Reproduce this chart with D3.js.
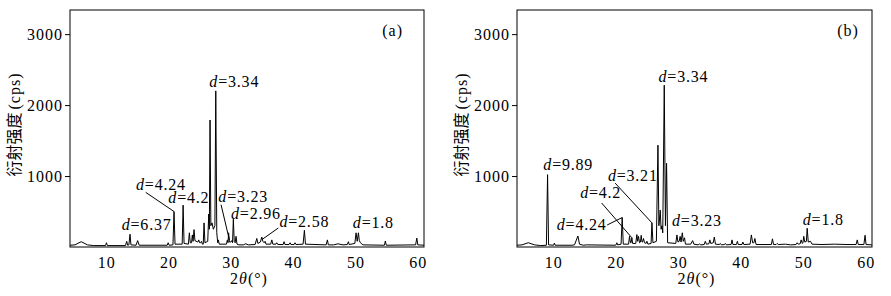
<!DOCTYPE html>
<html>
<head>
<meta charset="utf-8">
<script src="https://cdn.jsdelivr.net/npm/d3@7"></script>
<style>
  body { margin: 0; background: #fff; }
  svg text { fill: #000; }
</style>
</head>
<body>
<div id="chart-area"></div>
<script>
// XRD pattern (a), [2theta, counts] vertices of the trace
var patternA = [
    [4.2, 25], [5.0, 30], [6.0, 75], [7.0, 30], [8.0, 20], [9.9, 20], [10.05, 60], [10.2, 20],
    [13.1, 20], [13.3, 80], [13.45, 25], [13.65, 30], [13.83, 180], [13.98, 30], [14.8, 25],
    [15.05, 90], [15.3, 25], [19.8, 25], [19.95, 60], [20.1, 25], [20.72, 30], [20.89, 500],
    [21.05, 40], [22.2, 40], [22.35, 590], [22.5, 50], [23.2, 40], [23.35, 200], [23.5, 60],
    [23.7, 60], [23.83, 170], [23.95, 80], [24.1, 245], [24.25, 90], [24.7, 70], [24.86, 100],
    [25.0, 60], [25.15, 60], [25.3, 80], [25.45, 40], [25.58, 40], [25.71, 340], [25.85, 60],
    [26.3, 80], [26.46, 465], [26.56, 250], [26.67, 1790], [26.8, 300], [26.99, 340],
    [27.2, 250], [27.45, 300], [27.59, 2200], [27.75, 200], [27.9, 60], [28.0, 100], [28.15, 40],
    [29.3, 40], [29.45, 100], [29.55, 60], [29.65, 200], [29.78, 70], [30.0, 70], [30.15, 90],
    [30.28, 60], [30.41, 390], [30.55, 80], [30.7, 60], [30.84, 150], [31.0, 40], [31.3, 30],
    [32.0, 30], [32.4, 45], [32.8, 30], [33.9, 35], [34.17, 120], [34.35, 50], [34.75, 70],
    [34.97, 140], [35.15, 80], [35.35, 60], [35.5, 80], [35.65, 40], [36.4, 40], [36.58, 100],
    [36.75, 40], [37.25, 40], [37.38, 60], [37.55, 35], [38.4, 35], [38.55, 75], [38.7, 35],
    [39.35, 35], [39.51, 60], [39.65, 35], [40.15, 35], [40.3, 60], [40.45, 35], [41.6, 40],
    [41.81, 235], [41.98, 40], [45.3, 30], [45.5, 100], [45.65, 30], [46.5, 30], [47.2, 45],
    [48.0, 30], [48.7, 35], [48.87, 75], [49.0, 35], [49.9, 50], [50.1, 200], [50.28, 80],
    [50.48, 200], [50.62, 90], [50.8, 60], [51.2, 30], [54.65, 25], [54.8, 85], [54.95, 25],
    [59.65, 30], [59.85, 125], [60.0, 30], [61.0, 25]
];

// XRD pattern (b)
var patternB = [
    [4.2, 25], [5.0, 30], [6.0, 60], [7.0, 30], [8.0, 20], [8.9, 25], [9.09, 1020], [9.25, 30],
    [10.05, 25], [10.18, 55], [10.3, 25], [13.0, 25], [13.4, 30], [13.94, 155], [14.2, 40],
    [14.8, 25], [15.3, 30], [19.9, 25], [20.05, 30], [20.18, 60], [20.3, 30], [20.85, 40],
    [21.03, 415], [21.2, 40], [22.05, 40], [22.2, 150], [22.35, 60], [22.45, 60], [22.58, 130],
    [22.7, 50], [23.2, 50], [23.38, 175], [23.5, 80], [23.64, 150], [23.8, 60], [23.95, 70],
    [24.07, 165], [24.2, 70], [24.3, 70], [24.44, 120], [24.6, 60], [24.85, 50], [24.99, 80],
    [25.15, 40], [25.65, 50], [25.79, 340], [25.95, 60], [26.5, 80], [26.75, 1435], [26.9, 300],
    [27.12, 520], [27.25, 250], [27.39, 300], [27.52, 200], [27.76, 2280], [27.95, 300],
    [28.13, 1180], [28.3, 60], [29.6, 50], [29.79, 170], [29.95, 70], [30.15, 80], [30.3, 150],
    [30.45, 70], [30.65, 200], [30.8, 80], [31.0, 130], [31.15, 40], [32.0, 40], [32.3, 90],
    [32.5, 40], [33.2, 30], [33.37, 45], [33.6, 30], [34.15, 35], [34.33, 80], [34.5, 40],
    [34.9, 45], [35.05, 100], [35.2, 50], [35.6, 60], [35.77, 140], [35.95, 40], [36.6, 35],
    [36.73, 50], [36.9, 30], [37.4, 35], [37.53, 50], [37.7, 30], [38.45, 35], [38.6, 100],
    [38.75, 35], [39.3, 35], [39.46, 80], [39.6, 35], [40.2, 35], [40.34, 70], [40.5, 35],
    [41.5, 40], [41.7, 170], [41.9, 60], [42.1, 60], [42.26, 120], [42.45, 35], [44.9, 35],
    [45.07, 115], [45.25, 35], [45.65, 35], [45.82, 50], [46.0, 35], [47.15, 40], [48.0, 30],
    [48.85, 35], [49.02, 60], [49.2, 40], [49.5, 45], [49.66, 100], [49.85, 50], [49.95, 60],
    [50.08, 150], [50.25, 70], [50.5, 80], [50.63, 265], [50.8, 70], [51.16, 80], [51.4, 40],
    [53.0, 35], [55.0, 40], [57.0, 35], [58.45, 35], [58.64, 100], [58.8, 35], [59.7, 35],
    [59.89, 165], [60.05, 35], [61.0, 30]
];

// d-spacing labels: text, label anchor (2theta, counts), optional leader [from, to]
var labelsA = [
    { d: "3.34", x: 26.56, y: 2249 },
    { d: "4.24", x: 14.79, y: 807, leader: [[16.35, 770], [20.89, 500]] },
    { d: "4.2", x: 19.98, y: 620 },
    { d: "6.37", x: 12.5, y: 244 },
    { d: "3.23", x: 28.0, y: 634, leader: [[28.44, 596], [29.77, 99]] },
    { d: "2.96", x: 30.04, y: 394 },
    { d: "2.58", x: 37.8, y: 282, leader: [[37.63, 268], [34.97, 103]] },
    { d: "1.8", x: 49.58, y: 268 }
];
var labelsB = [
    { d: "3.34", x: 26.84, y: 2328 },
    { d: "9.89", x: 8.41, y: 1089 },
    { d: "4.24", x: 10.56, y: 244, leader: [[18.62, 310], [21.03, 415]] },
    { d: "4.2", x: 14.3, y: 690, leader: [[17.74, 620], [22.58, 130]] },
    { d: "3.21", x: 18.74, y: 925, leader: [[19.9, 900], [25.79, 340]] },
    { d: "3.23", x: 29.0, y: 292 },
    { d: "1.8", x: 49.92, y: 314 }
];

var xDomain = [4.2, 61];
var yDomain = [0, 3340];
var xTicks = [10, 20, 30, 40, 50, 60];
var yTicks = [1000, 2000, 3000];

var FONT = "Liberation Serif";

var svg = d3.select("#chart-area").append("svg")
    .attr("width", 891)
    .attr("height", 296);

function XrdPanel(_svg, _left, _width, _data, _labels, _tag, _tagX) {
    this.svg = _svg;
    this.left = _left;
    this.width = _width;
    this.data = _data;
    this.labels = _labels;
    this.tag = _tag;
    this.tagX = _tagX;
    this.initVis();
}

XrdPanel.prototype.initVis = function () {
    var vis = this;

    vis.top = 10;
    vis.height = 237;

    vis.g = vis.svg.append("g")
        .attr("transform", "translate(" + vis.left + "," + vis.top + ")");

    vis.x = d3.scaleLinear().domain(xDomain).range([0, vis.width]);
    vis.y = d3.scaleLinear().domain(yDomain).range([vis.height, 0]);

    // y axis, ticks outside
    var yAxis = vis.g.append("g")
        .call(d3.axisLeft(vis.y).tickValues(yTicks).tickFormat(d3.format("d")).tickSize(5).tickPadding(2));
    yAxis.attr("font-family", null).attr("font-size", null);
    yAxis.select(".domain").remove();
    yAxis.selectAll("line").attr("stroke", "#000");
    yAxis.selectAll("text")
        .attr("font-family", FONT)
        .attr("font-size", 16)
        .attr("letter-spacing", "1px");

    // x axis labels only
    var xAxis = vis.g.append("g")
        .attr("transform", "translate(0," + vis.height + ")")
        .call(d3.axisBottom(vis.x).tickValues(xTicks).tickSize(0));
    xAxis.attr("font-family", null).attr("font-size", null);
    xAxis.select(".domain").remove();
    xAxis.selectAll("text")
        .attr("font-family", FONT)
        .attr("font-size", 16)
        .attr("letter-spacing", "1px")
        .attr("y", 21)
        .attr("dy", 0);

    vis.g.append("clipPath").attr("id", "clip-" + vis.tag)
        .append("rect").attr("width", vis.width).attr("height", vis.height);

    vis.g.append("path")
        .datum(vis.data)
        .attr("clip-path", "url(#clip-" + vis.tag + ")")
        .attr("fill", "none")
        .attr("stroke", "#000")
        .attr("stroke-width", 1)
        .attr("d", d3.line()
            .x(function (d) { return vis.x(d[0]); })
            .y(function (d) { return vis.y(d[1]); })
        );

    // frame
    vis.g.append("rect")
        .attr("width", vis.width)
        .attr("height", vis.height)
        .attr("fill", "none")
        .attr("stroke", "#000")
        .attr("stroke-width", 1);

    // leaders
    vis.g.selectAll(".leader")
        .data(vis.labels.filter(function (d) { return d.leader; }))
        .enter().append("line")
        .attr("class", "leader")
        .attr("x1", function (d) { return vis.x(d.leader[0][0]); })
        .attr("y1", function (d) { return vis.y(d.leader[0][1]); })
        .attr("x2", function (d) { return vis.x(d.leader[1][0]); })
        .attr("y2", function (d) { return vis.y(d.leader[1][1]); })
        .attr("stroke", "#000")
        .attr("stroke-width", 1);

    var lab = vis.g.selectAll(".dlabel")
        .data(vis.labels)
        .enter().append("text")
        .attr("class", "dlabel")
        .attr("x", function (d) { return vis.x(d.x); })
        .attr("y", function (d) { return vis.y(d.y); })
        .attr("font-family", FONT)
        .attr("font-size", 16)
        .attr("letter-spacing", "0.8px");
    lab.append("tspan").attr("font-style", "italic").text("d");
    lab.append("tspan").text(function (d) { return "=" + d.d; });

    // panel tag
    vis.g.append("text")
        .attr("x", vis.x(vis.tagX))
        .attr("y", vis.y(2972))
        .attr("text-anchor", "middle")
        .attr("font-family", FONT)
        .attr("font-size", 16)
        .attr("letter-spacing", "1px")
        .text("(" + vis.tag + ")");

    // axis titles
    var xt = vis.g.append("text")
        .attr("x", vis.width / 2 + 2)
        .attr("y", vis.height + 37)
        .attr("text-anchor", "middle")
        .attr("font-family", FONT)
        .attr("font-size", 16)
        .attr("letter-spacing", "1px");
    xt.append("tspan").text("2");
    xt.append("tspan").attr("font-style", "italic").text("θ");
    xt.append("tspan").text("(°)");

    var yt = vis.g.append("text")
        .attr("transform", "translate(-56," + (vis.height / 2 - 4) + ") rotate(-90)")
        .attr("text-anchor", "middle")
        .attr("dy", "0.35em")
        .attr("font-family", FONT)
        .attr("font-size", 16);
    yt.append("tspan")
        .attr("font-family", "Noto Sans CJK SC")
        .text("衍射强度");
    yt.append("tspan").attr("dx", 3).attr("letter-spacing", "1px").text("(cps)");
}

var panelA = new XrdPanel(svg, 70, 354, patternA, labelsA, "a", 55.96);
var panelB = new XrdPanel(svg, 517, 355, patternB, labelsB, "b", 57.16);
</script>
</body>
</html>
